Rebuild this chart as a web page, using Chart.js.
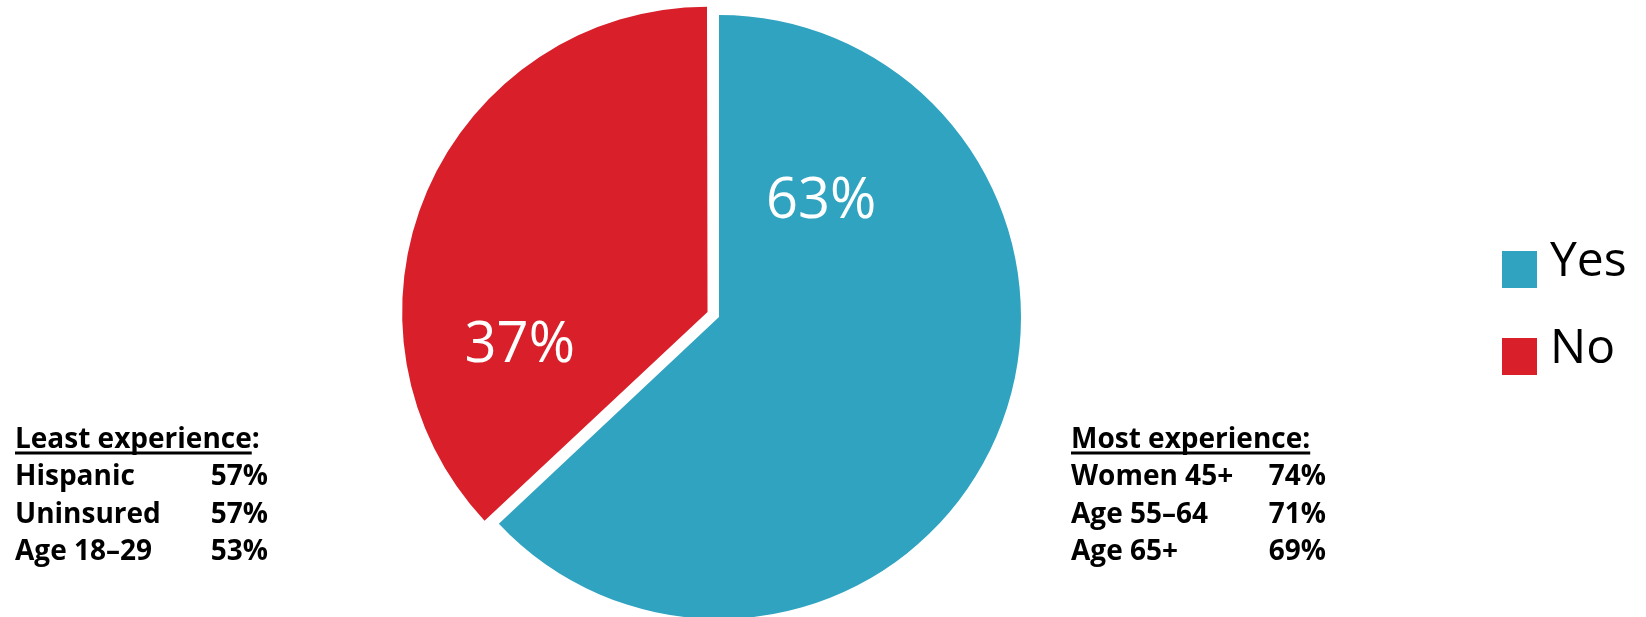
<!DOCTYPE html>
<html>
<head>
<meta charset="utf-8">
<script src="https://cdn.jsdelivr.net/npm/chart.js@4/dist/chart.umd.min.js"></script>
<style>
  html, body { margin: 0; padding: 0; background: #ffffff; }
  #wrap { position: relative; width: 1646px; height: 617px; overflow: hidden; }
  canvas { position: absolute; left: 0; top: 0; }
</style>
</head>
<body>
<div id="wrap"><canvas id="pie" width="1646" height="617"></canvas></div>
<script>
// Share of respondents answering Yes / No
const categories = ['Yes', 'No'];
const shares = [63, 37];
const sliceColors = ['#2fa3c0', '#d91f2a'];

// Subgroups with the least experience
const leastTitle = 'Least experience';
const leastGroups = ['Hispanic', 'Uninsured', 'Age 18\u201329'];
const leastValues = [57, 57, 53];

// Subgroups with the most experience
const mostTitle = 'Most experience:';
const mostGroups = ['Women 45+', 'Age 55\u201364', 'Age 65+'];
const mostValues = [74, 71, 69];

// Value labels inside the slices (polar position from the pie centre)
const sliceLabelPlugin = {
  id: 'sliceLabels',
  afterDatasetsDraw(chart, args, opts) {
    const ctx = chart.ctx;
    const meta = chart.getDatasetMeta(0);
    ctx.save();
    ctx.fillStyle = '#ffffff';
    ctx.font = '400 56px "Open Sans"';
    ctx.textAlign = 'center';
    ctx.textBaseline = 'alphabetic';
    meta.data.forEach((arc, i) => {
      const a = opts.angles[i] * Math.PI / 180;
      const r = opts.radii[i] * arc.outerRadius;
      ctx.fillText(shares[i] + '%', arc.x + Math.cos(a) * r, arc.y + Math.sin(a) * r);
    });
    ctx.restore();
  }
};

// Side notes and legend drawn on the same canvas
const notesPlugin = {
  id: 'notes',
  afterDraw(chart) {
    const ctx = chart.ctx;
    const rowGap = 37.5;
    ctx.save();
    ctx.fillStyle = '#000000';
    ctx.strokeStyle = '#000000';
    ctx.font = '700 28px "Open Sans"';
    ctx.textBaseline = 'alphabetic';
    ctx.lineWidth = 3;

    // left block
    ctx.textAlign = 'left';
    ctx.fillText(leastTitle + ':', 15, 448);
    const lw = ctx.measureText(leastTitle).width;
    ctx.beginPath(); ctx.moveTo(15, 453); ctx.lineTo(15 + lw, 453); ctx.stroke();
    leastGroups.forEach((g, i) => {
      const y = 485 + i * rowGap;
      ctx.textAlign = 'left';
      ctx.fillText(g, 15, y);
      ctx.textAlign = 'right';
      ctx.fillText(leastValues[i] + '%', 268, y);
    });

    // right block
    ctx.textAlign = 'left';
    ctx.fillText(mostTitle, 1071, 448);
    const mw = ctx.measureText(mostTitle).width;
    ctx.beginPath(); ctx.moveTo(1071, 453); ctx.lineTo(1071 + mw, 453); ctx.stroke();
    mostGroups.forEach((g, i) => {
      const y = 485 + i * rowGap;
      ctx.textAlign = 'left';
      ctx.fillText(g, 1071, y);
      ctx.textAlign = 'right';
      ctx.fillText(mostValues[i] + '%', 1326, y);
    });

    // legend
    ctx.font = '400 48px "Open Sans"';
    ctx.textAlign = 'left';
    categories.forEach((c, i) => {
      const top = 251 + i * 87;
      ctx.fillStyle = sliceColors[i];
      ctx.fillRect(1502, top, 35, 37);
      ctx.fillStyle = '#000000';
      ctx.fillText(c, 1550, top + 25);
    });
    ctx.restore();
  }
};

new Chart(document.getElementById('pie'), {
  type: 'pie',
  data: {
    labels: categories,
    datasets: [{
      data: shares,
      backgroundColor: sliceColors,
      borderWidth: 0,
      offset: [0, 50]
    }]
  },
  options: {
    responsive: false,
    animation: false,
    radius: 302,
    layout: { padding: { left: 0, right: 208, top: 17, bottom: 0 } },
    plugins: {
      legend: { display: false },
      tooltip: { enabled: false },
      sliceLabels: { angles: [-44.2, 167.4], radii: [0.472, 0.676] }
    }
  },
  plugins: [sliceLabelPlugin, notesPlugin]
});
</script>
</body>
</html>
